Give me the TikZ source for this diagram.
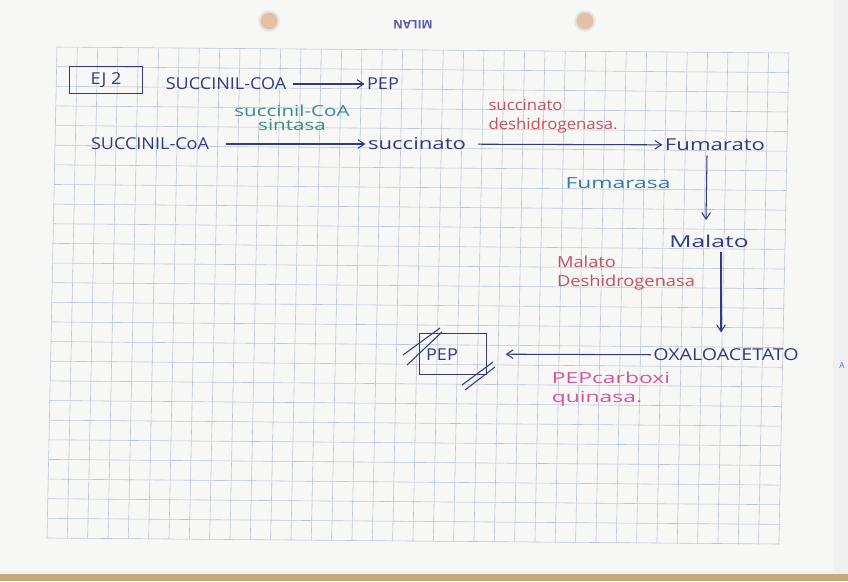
\documentclass[tikz,border=0pt]{standalone}
\usepackage{fontspec}
\setmainfont{Open Sans}
\newfontfamily\handA{Open Sans}[FakeStretch=1.1]
\newfontfamily\handB{Open Sans}[FakeStretch=1.2]
\newfontfamily\handC{Open Sans}[FakeStretch=1.35]
\newfontfamily\handD{Open Sans}[FakeStretch=1.5]
\usetikzlibrary{arrows.meta,positioning,calc}
\definecolor{paper}{HTML}{F7F7F6}
\definecolor{desk}{HTML}{C9A77E}
\definecolor{gridline}{HTML}{BAC5D5}
\definecolor{ink}{HTML}{2F3C84}
\definecolor{inkteal}{HTML}{3A8C8A}
\definecolor{inkred}{HTML}{C4525C}
\definecolor{inkblue}{HTML}{2C7DBA}
\definecolor{inkpink}{HTML}{D2559E}
\definecolor{holebg}{HTML}{E2C2A2}
\tikzset{
  molec/.style={text=ink,font=\handA\fontsize{14}{16}\selectfont,inner sep=2pt},
  enzyme/.style={font=\handC\fontsize{13}{16}\selectfont,inner sep=1pt},
  flowarr/.style={draw=ink,line width=0.9pt,-{Straight Barb[length=2mm,width=2.6mm]}},
  slash/.style={draw=ink,line width=0.9pt},
  hole/.style={circle,draw=white!80!gray,line width=1.8pt,fill=holebg,minimum size=0.58cm}
}
\begin{document}
\begin{tikzpicture}[x=0.03cm,y=-0.03cm]
  \useasboundingbox (0,0) rectangle (848,581);
  % sheet and desk
  \fill[desk] (0,0) rectangle (848,581);
  \fill[gray!12] (0,0) rectangle (848,574);
  \fill[paper] (0,0) rectangle (833,571);
  % grid of the sheet
  \foreach \i in {0,...,36}
    \draw[gridline,line width=0.5pt] (57+20.33*\i,47+0.167*\i) -- (47+20.33*\i,538+0.194*\i);
  \foreach \j in {0,...,25}
    \draw[gridline,line width=0.5pt] (57-0.4*\j,47+19.64*\j) -- (789-0.4*\j,53+19.64*\j);
  % binder holes and brand
  \node[hole] (holeL) at (269,21) {};
  \node[hole] (holeR) at (585,21) {};
  \node[text=gray!70!blue,font=\bfseries\fontsize{10}{10}\selectfont,rotate=180] (brand) at (413,25) {MILAN};

  % title and goal
  \node[molec,draw=ink,line width=0.8pt,minimum width=2.19cm,minimum height=0.8cm] (ej) at (106,80) {EJ 2};
  \node[molec] (scoa1) at (226,84) {SUCCINIL-COA};
  \node[molec] (pep1) at (383,84) {PEP};
  \draw[flowarr,shorten <=4pt] (scoa1) -- (pep1);

  % pathway
  \node[molec] (scoa2) at (150,144) {SUCCINIL-CoA};
  \node[molec,font=\handC\fontsize{14}{16}\selectfont] (succ) at (417,144) {succinato};
  \node[molec,font=\handC\fontsize{14}{16}\selectfont] (fum) at (715,145) {Fumarato};
  \node[molec,font=\handD\fontsize{14}{16}\selectfont] (mal) at (709,241) {Malato};
  \node[molec,font=\handB\fontsize{14}{16}\selectfont] (oaa) at (726,355) {OXALOACETATO};
  \node[draw=ink,line width=0.9pt,minimum width=2.0cm,minimum height=1.25cm] (pepbox) at (453,354) {};
  \node[molec] (pep2) at (442,355) {PEP};
  \draw[slash] (403,355) -- (440,328);
  \draw[slash] (407,365) -- (442,332);
  \draw[slash] (462,385) -- (493,362);
  \draw[slash] (465,390) -- (495,367);

  \draw[flowarr,shorten <=12pt] (scoa2) -- (succ);
  \draw[flowarr,shorten <=8pt] (succ) -- (fum);
  \draw[flowarr] ($(fum.south)+(-8,2)$) -- ($(mal.north)+(-3,-12)$);
  \draw[flowarr] ($(mal.south)+(12,2)$) -- ($(oaa.north)+(-5,-14)$);
  \draw[flowarr,shorten >=16pt] (oaa) -- (pepbox);

  % enzymes
  \node[enzyme,text=inkteal,align=center] (sucsin) at (292,118) {succinil-CoA\\[-4pt]sintasa};
  \node[enzyme,text=inkred,align=left,font=\handA\fontsize{13}{16}\selectfont] (sdh) at (553,116) {succinato\\deshidrogenasa.};
  \node[enzyme,text=inkblue,font=\handD\fontsize{13}{16}\selectfont] (fumase) at (618,183) {Fumarasa};
  \node[enzyme,text=inkred,align=left,font=\handB\fontsize{13}{16}\selectfont] (mdh) at (626,273) {Malato\\Deshidrogenasa};
  \node[enzyme,text=inkpink,align=left,font=\handD\fontsize{13}{16}\selectfont] (pepck) at (611,389) {PEPcarboxi\\quinasa.};
  \node[text=inkblue,font=\fontsize{7}{7}\selectfont,inner sep=0pt] (edge) at (842,366) {A};
\end{tikzpicture}
\end{document}
